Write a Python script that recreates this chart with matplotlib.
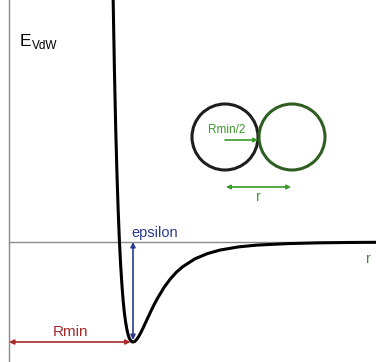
import matplotlib
matplotlib.use("Agg")
import matplotlib.pyplot as plt
from matplotlib.patches import Circle

plt.rcParams['font.family'] = ['Liberation Sans', 'DejaVu Sans']

# distance in units of Rmin, energy in units of epsilon
r_vals = [0.84, 0.85, 0.86, 0.87, 0.88, 0.89, 0.90, 0.91, 0.92, 0.93, 0.94, 0.95,
          0.96, 0.97, 0.98, 0.99, 1.00, 1.015, 1.03, 1.045, 1.06, 1.08, 1.10, 1.125,
          1.15, 1.175, 1.2, 1.25, 1.3, 1.35, 1.4, 1.5, 1.6, 1.7, 1.85, 2.0, 2.25,
          2.5, 2.75, 3.0]
e_vals = [2.42, 1.73, 1.164, 0.708, 0.33, 0.024, -0.223, -0.417, -0.580, -0.703,
          -0.798, -0.869, -0.924, -0.962, -0.984, -0.997, -1.0, -0.994, -0.974,
          -0.947, -0.913, -0.863, -0.810, -0.743, -0.677, -0.615, -0.558, -0.455,
          -0.371, -0.302, -0.248, -0.168, -0.116, -0.081, -0.049, -0.031, -0.016,
          -0.0082, -0.0046, -0.0027]
rmin = 1.0
epsilon = 1.0

fig = plt.figure(figsize=(3.76, 3.62), dpi=100)
ax = fig.add_axes([0, 0, 1, 1])
ax.set_xlim(-9 / 124, 367 / 124)
ax.set_ylim(-1.2, 2.42)
ax.axis('off')

# axes lines
ax.plot([0, 0], [-1.2, 2.42], color='#8a8a8a', lw=1.0)
ax.plot([0, 367 / 124], [0, 0], color='#8a8a8a', lw=1.0)

ax.plot(r_vals, e_vals, color='black', lw=2.2, solid_capstyle='round')

# Rmin and epsilon arrows
ax.annotate('', xy=(0, -epsilon), xytext=(rmin - 0.02, -epsilon),
            arrowprops=dict(arrowstyle='<|-|>', color='#a52a2a', lw=1.2,
                            mutation_scale=7, shrinkA=0, shrinkB=0))
ax.text(0.5, -0.90, 'Rmin', color='#a52a2a', fontsize=11, ha='center', va='center')
ax.annotate('', xy=(rmin, 0), xytext=(rmin, -epsilon + 0.02),
            arrowprops=dict(arrowstyle='<|-|>', color='#2b3a8f', lw=1.2,
                            mutation_scale=7, shrinkA=0, shrinkB=0))
ax.text(rmin - 0.01, 0.09, 'epsilon', color='#2b3a8f', fontsize=10.5, ha='left', va='center')
ax.text(2.90, -0.17, 'r', color='#3a8a2a', fontsize=10, ha='center', va='center')

# overlay in pixel coordinates for the sketch
ov = fig.add_axes([0, 0, 1, 1])
ov.set_xlim(0, 376)
ov.set_ylim(362, 0)
ov.axis('off')
ov.patch.set_alpha(0)

ov.text(20, 42, 'E', fontsize=12.5, color='black', ha='left', va='center')
ov.text(32, 46, 'VdW', fontsize=8.5, color='black', ha='left', va='center')

ov.add_patch(Circle((225, 137), 33, fill=False, ec='#1e1e1e', lw=2.2))
ov.add_patch(Circle((292, 137), 33, fill=False, ec='#2e5e22', lw=2.2))
ov.text(227, 130, 'Rmin/2', color='#3a9a2a', fontsize=8.5, ha='center', va='center')
ov.annotate('', xy=(258, 140), xytext=(225, 140),
            arrowprops=dict(arrowstyle='-|>', color='#3a9a2a', lw=1.2,
                            mutation_scale=6, shrinkA=0, shrinkB=0))
ov.annotate('', xy=(291, 187), xytext=(226, 187),
            arrowprops=dict(arrowstyle='<|-|>', color='#3a9a2a', lw=1.2,
                            mutation_scale=6, shrinkA=0, shrinkB=0))
ov.text(258, 197, 'r', color='#3a9a2a', fontsize=10, ha='center', va='center')

fig.savefig('out.png', dpi=100)
